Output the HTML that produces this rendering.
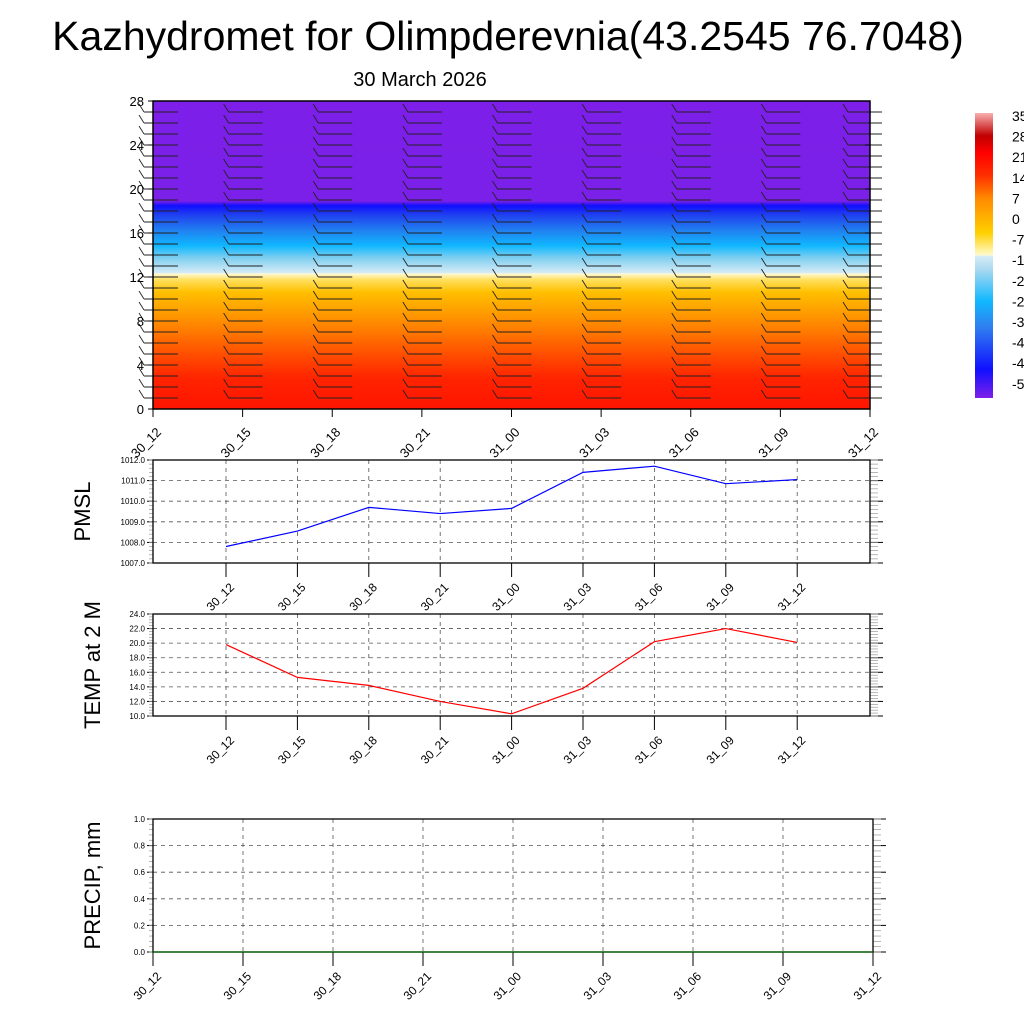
<!DOCTYPE html>
<html><head><meta charset="utf-8">
<style>
html,body{margin:0;padding:0;background:#fff;}
svg{display:block;font-family:"Liberation Sans",sans-serif;}
</style></head>
<body>
<svg id="c" width="1024" height="1024" viewBox="0 0 1024 1024">
<defs>
<linearGradient id="tg" x1="0" y1="1" x2="0" y2="0">
<stop offset="0" stop-color="#ff1400"/>
<stop offset="0.1" stop-color="#ff2400"/>
<stop offset="0.17" stop-color="#ff4a00"/>
<stop offset="0.28" stop-color="#ff8a00"/>
<stop offset="0.38" stop-color="#ffc000"/>
<stop offset="0.42" stop-color="#ffe060"/>
<stop offset="0.44" stop-color="#fffbd8"/>
<stop offset="0.441" stop-color="#d8ecf6"/>
<stop offset="0.49" stop-color="#80cff0"/>
<stop offset="0.53" stop-color="#10b8ff"/>
<stop offset="0.58" stop-color="#2080f0"/>
<stop offset="0.63" stop-color="#2040f0"/>
<stop offset="0.66" stop-color="#1010ff"/>
<stop offset="0.675" stop-color="#7a20e8"/>
<stop offset="1" stop-color="#7d1fe9"/>
</linearGradient>
<linearGradient id="cbg" x1="0" y1="1" x2="0" y2="0">
<stop offset="0" stop-color="#7d1fe9"/>
<stop offset="0.1" stop-color="#1010ff"/>
<stop offset="0.25" stop-color="#3080f0"/>
<stop offset="0.34" stop-color="#10b8ff"/>
<stop offset="0.45" stop-color="#a8d8f0"/>
<stop offset="0.499" stop-color="#d8ecf6"/>
<stop offset="0.5" stop-color="#fffbd0"/>
<stop offset="0.58" stop-color="#ffd000"/>
<stop offset="0.7" stop-color="#ff8a00"/>
<stop offset="0.78" stop-color="#ff3000"/>
<stop offset="0.86" stop-color="#ff0000"/>
<stop offset="0.92" stop-color="#c00000"/>
<stop offset="1" stop-color="#f8b0b0"/>
</linearGradient>
</defs>
<text x="508" y="50" font-size="41" text-anchor="middle">Kazhydromet for Olimpderevnia(43.2545 76.7048)</text>
<text x="420" y="86" font-size="20" text-anchor="middle">30 March 2026</text>
<rect x="153" y="101" width="717" height="308" fill="url(#tg)"/>
<rect x="975" y="113" width="18" height="285" fill="url(#cbg)"/>
<g id="g"></g>
</svg>
<script>
const pmsl=[1007.8,1008.55,1009.7,1009.4,1009.65,1011.4,1011.7,1010.85,1011.05];
const temp=[19.8,15.3,14.2,12.0,10.3,13.8,20.2,22.0,20.1];
const precip=[0,0,0,0,0,0,0,0,0];
const xLabels=["30_12","30_15","30_18","30_21","31_00","31_03","31_06","31_09","31_12"];
const cbLabels=["35","28","21","14","7","0","-7","-14","-21","-28","-35","-42","-49","-56"];
const NS="http://www.w3.org/2000/svg";
const g=document.getElementById('g');
function el(t,a,p){const e=document.createElementNS(NS,t);for(const k in a)e.setAttribute(k,a[k]);(p||g).appendChild(e);return e;}
function txt(x,y,s,size,anchor,rot){const e=el('text',{x:x,y:y,'font-size':size,'text-anchor':anchor||'middle'});if(rot)e.setAttribute('transform','rotate('+rot+' '+x+' '+y+')');e.textContent=s;return e;}

cbLabels.forEach((s,i)=>{const t=txt(1012,121+i*20.6,s,14,'start');

});

const tx0=153,tx1=870,ty0=101,ty1=409;
const tX=i=>tx0+(tx1-tx0)*i/8, tY=v=>ty1-(ty1-ty0)*v/28;
for(let c=0;c<=8;c++){
  const cx=c==0?158:(c==8?862:tX(c));
  for(let r=1;r<28;r++){
    const y=tY(r);
    const l=el('line',{x1:cx-14,y1:y,x2:cx+20,y2:y,stroke:'#222','stroke-width':0.9});
    
    
    el('line',{x1:cx-14,y1:y,x2:cx-19,y2:y-8,stroke:'#222','stroke-width':0.9});
  }
}
el('rect',{x:tx0,y:ty0,width:tx1-tx0,height:ty1-ty0,fill:'none',stroke:'#000','stroke-width':1.5});
for(let v=0;v<=28;v+=4){el('line',{x1:tx0-5,y1:tY(v),x2:tx0,y2:tY(v),stroke:'#000'});
 el('line',{x1:tx1,y1:tY(v),x2:tx1-5,y2:tY(v),stroke:'#000'});
 const t=txt(tx0-9,tY(v)+5,String(v),13,'end');
 
 }
xLabels.forEach((s,i)=>{const x=tX(i);el('line',{x1:x,y1:ty1,x2:x,y2:ty1+8,stroke:'#000'});
 const t=txt(x+9,ty1+24,s,13,'end',-45);
 
 });

function panel(name,y0,y1,vmin,vmax,step,fmt,vals,color,title,titleX,x1,offset,idxSpan){
  const X0=153,X1=x1;
  const xs=i=>offset+i*idxSpan;
  const ys=v=>y1-(y1-y0)*(v-vmin)/(vmax-vmin);
  for(let v=vmin;v<=vmax+1e-9;v+=step){
    if(v>vmin&&v<vmax-1e-9)el('line',{x1:X0,y1:ys(v),x2:X1,y2:ys(v),stroke:'#555','stroke-dasharray':'4,4','stroke-width':0.8});
    el('line',{x1:X0-6,y1:ys(v),x2:X0,y2:ys(v),stroke:'#000'});
    el('line',{x1:X1,y1:ys(v),x2:X1+13,y2:ys(v),stroke:'#000'});
    const t=txt(X0-8,ys(v)+3,fmt(v),8,'end');
    
    
  }
  const n=Math.round((vmax-vmin)/step)*5;
  for(let k=0;k<=n;k++){const y=y1-(y1-y0)*k/n;el('line',{x1:X0-4,y1:y,x2:X0,y2:y,stroke:'#999','stroke-width':0.7});el('line',{x1:X1,y1:y,x2:X1+8,y2:y,stroke:'#999','stroke-width':0.7});}
  xLabels.forEach((s,i)=>{const x=xs(i);
    if(x>X0+2&&x<X1-2)el('line',{x1:x,y1:y0,x2:x,y2:y1,stroke:'#555','stroke-dasharray':'4,4','stroke-width':0.8});
    el('line',{x1:x,y1:y1,x2:x,y2:y1+14,stroke:'#000'});
    const t=txt(x+9,y1+25,s,12,'end',-45);
    
    });
  el('rect',{x:X0,y:y0,width:X1-X0,height:y1-y0,fill:'none',stroke:'#000','stroke-width':1.3});
  const p=el('polyline',{points:vals.map((v,i)=>xs(i)+','+ys(v)).join(' '),fill:'none',stroke:color,'stroke-width':1.2});
  
  
  const t=txt(titleX,(y0+y1)/2,title,22,'middle',-90);
  
  
}
panel('pmsl',460,563,1007,1012,1,v=>v.toFixed(1),pmsl,'#0000ff','PMSL',90,870,226,71.4);
panel('temp',614,716,10,24,2,v=>v.toFixed(1),temp,'#ff0000','TEMP at 2 M',100,870,226,71.4);
panel('precip',819,952,0,1,0.2,v=>v.toFixed(1),precip,'#006400','PRECIP, mm',100,873,153,90);
</script>
</body></html>
